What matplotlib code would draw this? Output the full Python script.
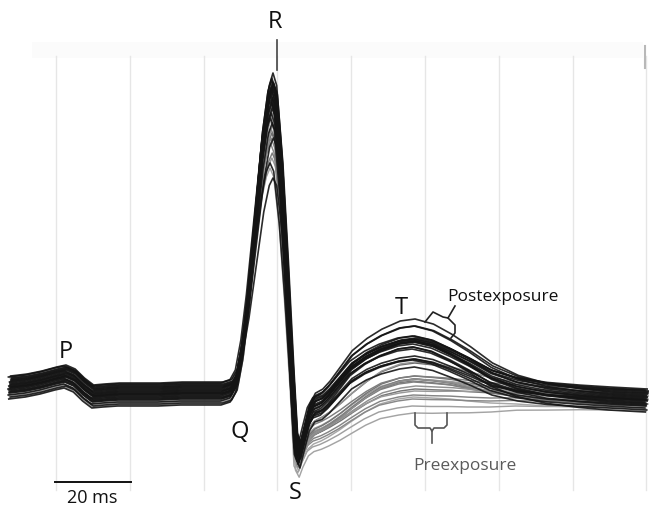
import numpy as np
import matplotlib
matplotlib.use("Agg")
import matplotlib.pyplot as plt

plt.rcParams['font.family'] = ['Open Sans', 'DejaVu Sans']

# ---- data -------------------------------------------------------------
# time knots (ms); grid lines every 20 ms, R peak near 58.5 ms
t_ms = [-12.5, -8, -4, 0, 2.5, 5, 7.5, 10, 13, 17, 22, 28, 34, 40, 45, 47.5,
        49, 50.5, 52, 54, 56, 57.5, 58.5, 59.5, 61, 62.5, 64, 65, 66, 67, 68.5,
        70, 72, 74, 77, 80, 84, 88, 93, 97, 102, 107, 112, 118, 125, 133, 142,
        150, 160]

# mean post-exposure beat (mV, nominal)
post_mean = [0.03, 0.05, 0.08, 0.12, 0.14, 0.10, 0.01, -0.06, -0.05, -0.04,
             -0.04, -0.04, -0.03, -0.03, -0.03, 0.00, 0.10, 0.40, 0.90, 1.70,
             2.50, 2.90, 3.02, 2.90, 2.20, 1.20, 0.10, -0.55, -0.65, -0.50,
             -0.28, -0.18, -0.15, -0.08, 0.05, 0.18, 0.28, 0.35, 0.41, 0.43,
             0.39, 0.31, 0.22, 0.10, 0.02, -0.03, -0.06, -0.08, -0.10]

# mean pre-exposure beat (mV, nominal)
pre_mean = [0.03, 0.05, 0.08, 0.12, 0.14, 0.10, 0.01, -0.06, -0.05, -0.04,
            -0.04, -0.04, -0.03, -0.03, -0.03, 0.00, 0.10, 0.40, 0.90, 1.70,
            2.45, 2.80, 2.92, 2.80, 2.15, 1.15, 0.05, -0.65, -0.72, -0.62,
            -0.50, -0.45, -0.42, -0.38, -0.31, -0.23, -0.13, -0.05, 0.00,
            0.02, 0.01, 0.00, -0.02, -0.04, -0.05, -0.07, -0.08, -0.09, -0.10]

# weight of the QRS spike and of the ST-T segment at each knot
r_weight = [0, 0, 0, 0, 0, 0, 0, 0, 0, 0, 0, 0, 0, 0, 0, 0,
            0, 0, 0.2, 0.5, 0.8, 0.95, 1.0, 0.95, 0.7, 0.35, 0, 0, 0, 0, 0,
            0, 0, 0, 0, 0, 0, 0, 0, 0, 0, 0, 0, 0, 0, 0, 0, 0, 0]
t_weight = [0, 0, 0, 0, 0, 0, 0, 0, 0, 0, 0, 0, 0, 0, 0, 0,
            0, 0, 0, 0, 0, 0, 0, 0, 0, 0, 0, 0.3, 0.3, 0.3, 0.35,
            0.4, 0.45, 0.5, 0.6, 0.7, 0.8, 0.9, 1.0, 1.0, 0.95, 0.85, 0.7,
            0.5, 0.3, 0.15, 0.05, 0.0, 0.0]

# per-beat deviations, post-exposure
post_base = [0.06, -0.03, 0.00, 0.09, -0.08, 0.03, -0.05, 0.07, 0.01, -0.10,
             0.04, -0.02, 0.11, -0.06, 0.00, 0.02, -0.12, 0.08, -0.04, 0.05,
             -0.01, 0.10]
post_r = [0.15, 0.00, -0.15, 0.05, -0.30, -0.10, 0.08, -0.50, -0.05, -0.20,
          0.10, -0.75, 0.00, -0.25, -0.90, 0.02, -0.08, 0.04, -0.35, -0.02,
          0.06, -0.12]
post_t = [0.22, 0.10, 0.05, 0.00, -0.05, 0.08, -0.07, 0.14, 0.02, -0.10,
          0.17, 0.00, -0.03, 0.06, -0.12, 0.04, 0.12, -0.02, 0.09, 0.03,
          -0.08, 0.01]
post_dt = [0.3, -0.2, 0.0, 0.5, -0.4, 0.2, -0.1, 0.4, -0.3, 0.1, 0.0, -0.5,
           0.2, -0.2, 0.3, 0.0, -0.3, 0.4, 0.1, -0.1, 0.2, -0.4]

# per-beat deviations, pre-exposure
pre_base = [0.07, -0.05, 0.01, 0.05, -0.09, 0.03, -0.03, 0.09, -0.06, 0.00,
            0.04, -0.08, 0.02, -0.01, 0.06, -0.11, 0.10, -0.04]
pre_r = [-0.10, -0.30, 0.00, -0.60, -0.20, -0.05, -0.45, -0.15, -0.35, 0.05,
         -0.25, -0.70, -0.10, -0.40, 0.00, -0.20, -0.55, -0.08]
pre_t = [0.18, 0.12, 0.08, 0.04, 0.00, -0.04, -0.08, -0.12, 0.15, 0.06,
         -0.02, -0.10, 0.10, -0.06, 0.20, -0.14, 0.02, 0.13]
pre_dt = [0.2, -0.3, 0.4, 0.0, -0.2, 0.3, -0.4, 0.1, 0.0, -0.1, 0.5, -0.5,
          0.2, -0.2, 0.3, -0.1, 0.1, 0.4]
pre_gray = ['#6a6a6a', '#7a7a7a', '#8a8a8a', '#9a9a9a', '#a8a8a8', '#777777',
            '#888888', '#999999', '#6f6f6f', '#808080', '#909090', '#a0a0a0',
            '#757575', '#858585', '#959595', '#a4a4a4', '#7e7e7e', '#8e8e8e']

grid_ms = [0, 20, 40, 60, 80, 100, 120, 140, 160]

# ---- figure -----------------------------------------------------------
W, H = 649, 508
fig = plt.figure(figsize=(W / 100, H / 100), dpi=100)
ax = fig.add_axes([0, 0, 1, 1])
ax.axis('off')
x0, xs = 56.0, 3.69      # pixel of t=0, pixels per ms
y0, ys = 390.0, 100.0    # pixel of 0 mV, pixels per mV
ax.set_xlim(-x0 / xs, (W - x0) / xs)
ax.set_ylim((y0 - H) / ys, y0 / ys)


def px(x, y):
    return (x - x0) / xs, (y0 - y) / ys


# faint top band and grid
ax.axhspan(px(0, 58)[1], px(0, 42)[1], xmin=0.05, xmax=0.99,
           color='#fbfbfb', lw=0, zorder=0)
for g in grid_ms:
    ax.plot([g, g], [px(0, 490)[1], px(0, 56)[1]], color='#e6e6e6',
            lw=1.0, zorder=0.5)
ax.plot([px(645, 0)[0]] * 2, [px(0, 68)[1], px(0, 46)[1]], color='#b8b8b8',
        lw=1.5, zorder=0.6)

t = np.array(t_ms)
post_m = np.array(post_mean)
pre_m = np.array(pre_mean)
rw = np.array(r_weight)
tw = np.array(t_weight)

for b, r, tt, dt, c in zip(pre_base, pre_r, pre_t, pre_dt, pre_gray):
    ax.plot(t + dt, pre_m + b * (1 - rw) + r * rw + tt * tw,
            color=c, lw=1.05, zorder=2)
for b, r, tt, dt in zip(post_base, post_r, post_t, post_dt):
    ax.plot(t + dt, post_m + b * (1 - rw) + r * rw + tt * tw,
            color='#141414', lw=1.2, zorder=3, alpha=0.9)

# R marker line
ax.plot([px(277, 0)[0]] * 2, [px(0, 70)[1], px(0, 40)[1]], color='#444444',
        lw=1.2, zorder=4)

# wave labels
for lab, (x, y) in {'R': (275, 22), 'P': (66, 352), 'Q': (240, 432),
                    'S': (295, 493), 'T': (401, 308)}.items():
    ax.text(*px(x, y), lab, fontsize=17, ha='center', va='center',
            color='#111111', zorder=5)

ax.text(*px(447, 297), 'Postexposure', fontsize=12.5, ha='left',
        va='center', color='#111111', zorder=5)
ax.text(*px(465, 466), 'Preexposure', fontsize=12.5, ha='center',
        va='center', color='#5a5a5a', zorder=5)

# brackets
post_br = [(425, 322), (433, 312), (443, 317), (448, 318), (455, 306)]
post_br2 = [(448, 318), (455, 325), (455, 333), (451, 338)]
for seg in (post_br, post_br2):
    xs_, ys_ = zip(*[px(*p) for p in seg])
    ax.plot(xs_, ys_, color='#222222', lw=1.2, zorder=5)
pre_br = [[(415, 413), (415, 425), (418, 428), (430, 428), (432, 431),
           (432, 443)],
          [(447, 413), (447, 425), (444, 428), (434, 428), (432, 431)]]
for seg in pre_br:
    xs_, ys_ = zip(*[px(*p) for p in seg])
    ax.plot(xs_, ys_, color='#555555', lw=1.2, zorder=5)

# scale bar
ax.plot([px(55, 0)[0], px(131, 0)[0]], [px(0, 482)[1]] * 2, color='#111111',
        lw=1.4, zorder=5)
ax.text(*px(92, 498), '20 ms', fontsize=13, ha='center', va='center',
        color='#111111', zorder=5)

fig.savefig('out.png', dpi=100)
